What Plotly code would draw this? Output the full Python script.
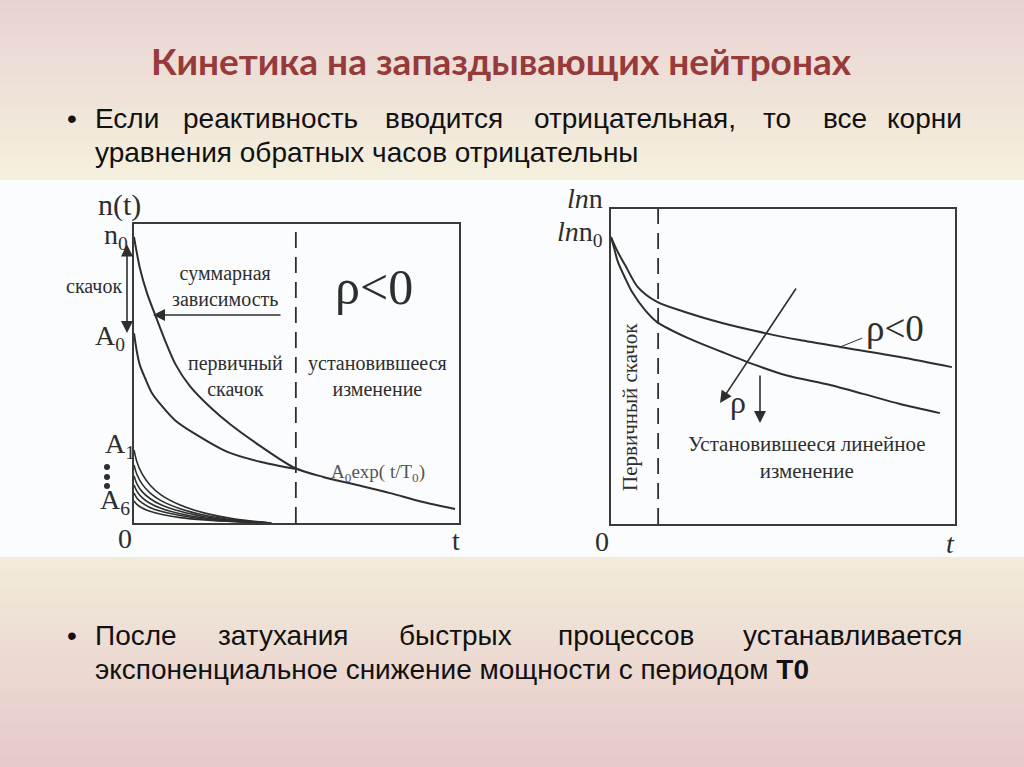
import plotly.graph_objects as go

W, H = 1024, 767

# ---------------- data ----------------
# Left diagram: n(t), arbitrary units, box spans 0..10 in both axes
sum_t = [0, 0.18, 0.40, 0.65, 0.95, 1.29, 1.72, 2.34, 2.95, 3.88, 4.95, 5.82, 6.86, 7.88, 8.89, 9.88]
sum_n = [9.57, 8.53, 7.69, 6.96, 6.12, 5.28, 4.58, 3.88, 3.31, 2.58, 1.84, 1.54, 1.27, 1.00, 0.70, 0.47]

a0_t = [0, 0.09, 0.18, 0.34, 0.55, 0.83, 1.26, 1.88, 2.89, 3.91, 4.95]
a0_n = [6.35, 5.72, 5.28, 4.85, 4.35, 3.95, 3.44, 2.98, 2.37, 2.04, 1.81]

ai_t = [0, 0.09, 0.25, 0.49, 0.83, 1.42, 2.18, 3.11, 4.22]
a1_n = [2.44, 2.04, 1.64, 1.27, 0.94, 0.60, 0.33, 0.13, 0.0]
a2_n = [1.94, 1.62, 1.30, 1.01, 0.75, 0.48, 0.26, 0.10, 0.0]
a3_n = [1.57, 1.31, 1.05, 0.82, 0.61, 0.39, 0.21, 0.08, 0.0]
a4_n = [1.27, 1.06, 0.85, 0.66, 0.49, 0.31, 0.17, 0.07, 0.0]
a5_n = [1.00, 0.83, 0.67, 0.52, 0.39, 0.25, 0.13, 0.05, 0.0]
a6_n = [0.74, 0.62, 0.50, 0.39, 0.29, 0.18, 0.10, 0.04, 0.0]
small_curves = [a1_n, a2_n, a3_n, a4_n, a5_n, a6_n]

left_split_t = 4.98          # dashed boundary, left diagram

# Right diagram: ln n
up_t = [0, 0.20, 0.41, 0.78, 1.34, 2.24, 3.23, 4.48, 5.49, 6.66, 8.40, 9.91]
up_ln = [9.11, 8.63, 8.22, 7.52, 7.05, 6.70, 6.38, 6.06, 5.84, 5.62, 5.30, 4.98]
lo_t = [0, 0.09, 0.20, 0.41, 0.61, 0.99, 1.34, 2.24, 3.23, 4.19, 5.06, 6.37, 7.33, 8.40, 9.56]
lo_ln = [9.11, 8.76, 8.32, 7.81, 7.37, 6.79, 6.41, 5.90, 5.46, 5.05, 4.73, 4.41, 4.13, 3.81, 3.52]
right_split_t = 1.37
leader_t = [6.66, 7.30]
leader_ln = [5.62, 5.90]

# ---------------- styles ----------------
INK = "#2e2e2e"
SERIF = "Liberation Serif, Times New Roman, serif"
SANS = "Liberation Sans, Arial, sans-serif"


def pxx(x):
    return x / W


def pxy(y):
    return 1 - y / H


fig = go.Figure()

line_style = dict(color=INK, width=2, shape="spline", smoothing=0.8)

# left curves
fig.add_trace(go.Scatter(x=sum_t, y=sum_n, mode="lines", line=line_style, xaxis="x", yaxis="y"))
fig.add_trace(go.Scatter(x=a0_t, y=a0_n, mode="lines", line=line_style, xaxis="x", yaxis="y"))
for c in small_curves:
    fig.add_trace(go.Scatter(x=ai_t, y=c, mode="lines",
                             line=dict(color=INK, width=1.6, shape="spline", smoothing=0.8),
                             xaxis="x", yaxis="y"))
fig.add_trace(go.Scatter(x=[left_split_t, left_split_t], y=[0, 10], mode="lines",
                         line=dict(color=INK, width=1.8, dash="16px,9px"), xaxis="x", yaxis="y"))

# right curves
fig.add_trace(go.Scatter(x=up_t, y=up_ln, mode="lines", line=line_style, xaxis="x2", yaxis="y2"))
fig.add_trace(go.Scatter(x=lo_t, y=lo_ln, mode="lines", line=line_style, xaxis="x2", yaxis="y2"))
fig.add_trace(go.Scatter(x=[right_split_t, right_split_t], y=[0, 10], mode="lines",
                         line=dict(color=INK, width=1.8, dash="16px,9px"), xaxis="x2", yaxis="y2"))
fig.add_trace(go.Scatter(x=leader_t, y=leader_ln, mode="lines", line=dict(color=INK, width=1),
                         xaxis="x2", yaxis="y2"))

# ---------------- background ----------------
shapes = []


def grad(y0, y1, c0, c1, n=40):
    for i in range(n):
        f = i / (n - 1)
        col = "rgb(%d,%d,%d)" % tuple(round(c0[k] + (c1[k] - c0[k]) * f) for k in range(3))
        ya = y0 + (y1 - y0) * i / n
        yb = y0 + (y1 - y0) * (i + 1) / n
        shapes.append(dict(type="rect", xref="paper", yref="paper", x0=0, x1=1,
                           y0=pxy(yb) - 0.001, y1=pxy(ya) + 0.001, fillcolor=col,
                           line=dict(width=0), layer="below"))


grad(0, 180, (232, 211, 211), (245, 240, 221))
grad(557, 767, (242, 235, 218), (230, 201, 201))
shapes.append(dict(type="rect", xref="paper", yref="paper", x0=0, x1=1, y0=pxy(557), y1=pxy(180),
                   fillcolor="#fafcfd", line=dict(width=0), layer="below"))

# the three dots between A1 and A6 (decorative)
for yy in (467, 477, 486):
    shapes.append(dict(type="circle", xref="paper", yref="paper",
                       x0=pxx(104), x1=pxx(110), y0=pxy(yy + 3), y1=pxy(yy - 3),
                       fillcolor=INK, line=dict(width=0)))

# ---------------- annotations ----------------
ann = []


def txt(x, y, s, size, xref="paper", yref="paper", family=SERIF, color=INK,
        xanchor="center", yanchor="middle", **kw):
    if xref == "paper":
        x = pxx(x)
    if yref == "paper":
        y = pxy(y)
    ann.append(dict(x=x, y=y, text=s, xref=xref, yref=yref, showarrow=False,
                    font=dict(family=family, size=size, color=color),
                    xanchor=xanchor, yanchor=yanchor, **kw))


def arrow_px(hx, hy, tx, ty, both=False):
    # head at pixel (hx, hy), tail at pixel (tx, ty)
    ann.append(dict(x=pxx(hx), y=pxy(hy), xref="paper", yref="paper",
                    ax=tx - hx, ay=ty - hy, axref="pixel", ayref="pixel",
                    text="", showarrow=True, arrowhead=2, arrowsize=1.5, arrowwidth=1.6,
                    arrowcolor=INK, arrowside="end+start" if both else "end"))


# title & bullets
txt(501, 60, "<b>Кинетика на запаздывающих нейтронах</b>", 37,
    family="Lato, Open Sans, sans-serif", color="#973a3a")

BS = 28
DARK = "#111"
txt(72, 118, "•", BS, family=SANS, color=DARK)
for word, xp in [("Если", 93), ("реактивность", 181), ("вводится", 383), ("отрицательная,", 532),
                 ("то", 761), ("все", 821), ("корни", 885)]:
    txt(xp, 118, word, BS, family=SANS, color=DARK, xanchor="left")
txt(93, 152, "уравнения обратных часов отрицательны", BS, family=SANS, color=DARK, xanchor="left")

txt(72, 635, "•", BS, family=SANS, color=DARK)
for word, xp in [("После", 93), ("затухания", 216), ("быстрых", 397), ("процессов", 556),
                 ("устанавливается", 741)]:
    txt(xp, 635, word, BS, family=SANS, color=DARK, xanchor="left")
txt(93, 669, "экспоненциальное снижение мощности с периодом <b>T0</b>", BS,
    family=SANS, color=DARK, xanchor="left")

# left diagram labels (pixel positions on the slide)
txt(119, 205, "n(t)", 30)
txt(116, 236, "n<sub>0</sub>", 28)
txt(94, 286, "скачок", 20)
txt(110, 338, "A<sub>0</sub>", 28)
txt(120, 445, "A<sub>1</sub>", 28)
txt(115, 501, "A<sub>6</sub>", 28)
txt(125, 538, "0", 28)
txt(456, 540, "t", 28)
txt(225, 286, "суммарная<br>зависимость", 20)
txt(374, 287, "ρ&lt;0", 50)
txt(235, 376, "первичный<br>скачок", 20)
txt(377, 376, "установившееся<br>изменение", 20)
txt(378, 473, "A<sub>0</sub>exp( t/T<sub>0</sub>)", 19, color="#555")
arrow_px(127, 333, 127, 243, both=True)
arrow_px(153, 315, 282, 315)

# right diagram labels
txt(585, 198, "<i>ln</i>n", 28)
txt(580, 233, "<i>ln</i>n<sub>0</sub>", 28)
txt(602, 541, "0", 28)
txt(950, 543, "<i>t</i>", 28)
txt(630, 407, "Первичный скачок", 21, textangle=-90)
txt(738, 402, "ρ", 32)
txt(895, 328, "ρ&lt;0", 37)
txt(807, 457, "Установившееся линейное<br>изменение", 21)
arrow_px(720, 403, 797, 287)
arrow_px(760, 423, 760, 374)

axis_common = dict(range=[0, 10], showgrid=False, zeroline=False, showticklabels=False, ticks="",
                   showline=True, linecolor="#3a3a3a", linewidth=2, mirror=True, fixedrange=True)

fig.update_layout(
    width=W, height=H, margin=dict(l=0, r=0, t=0, b=0),
    paper_bgcolor="#fafcfd", plot_bgcolor="rgba(0,0,0,0)", showlegend=False,
    xaxis=dict(domain=[pxx(134), pxx(459)], anchor="y", **axis_common),
    yaxis=dict(domain=[pxy(523), pxy(224)], anchor="x", **axis_common),
    xaxis2=dict(domain=[pxx(611), pxx(955)], anchor="y2", **axis_common),
    yaxis2=dict(domain=[pxy(524), pxy(209)], anchor="x2", **axis_common),
    shapes=shapes, annotations=ann,
)

fig.write_html("out.html", config={"displayModeBar": False},
               post_script="document.body.style.margin='0';document.body.style.overflow='hidden';")
